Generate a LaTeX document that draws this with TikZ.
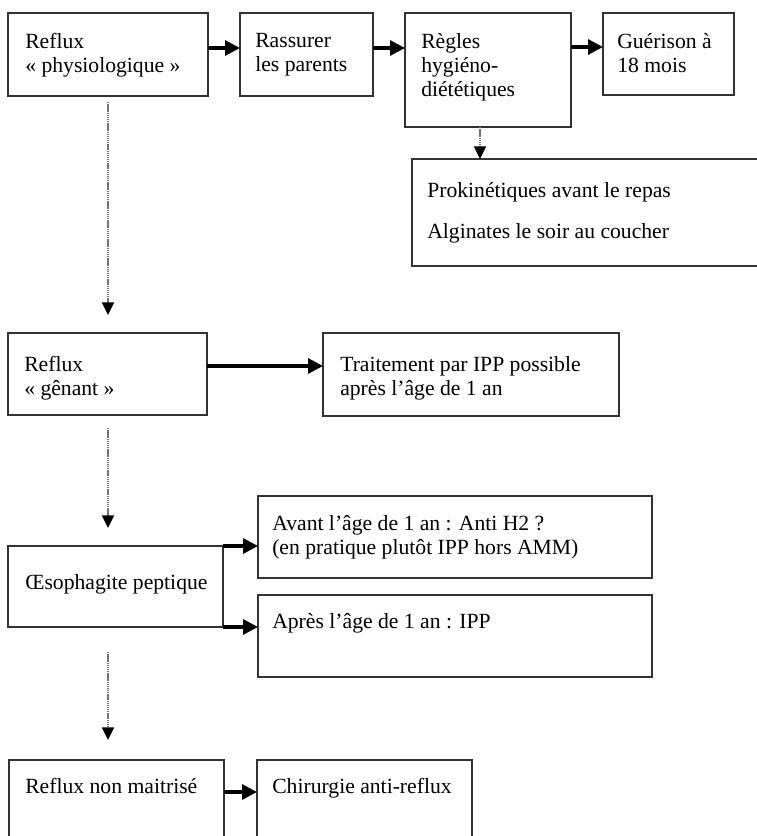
\documentclass[tikz,border=0pt]{standalone}
\usepackage{fontspec}
\setmainfont{Liberation Serif}
\usetikzlibrary{arrows.meta}

\begin{document}
\begin{tikzpicture}
[x=0.025cm,y=-0.025cm,
  boxDecorate/.style={shape=rectangle,draw=black!80,line width=1.1pt,anchor=north west,inner sep=0pt,outer sep=0pt},
  textDecorate/.style={anchor=north west,inner sep=0pt,align=left,font=\fontsize{15.4}{17.2}\selectfont},
  arrowDecorate/.style={-{Triangle[length=10.5pt,width=10.5pt]},line width=2.2pt},
  dotDecorate/.style={-{Triangle[length=9pt,width=8.5pt,color=black]},line width=1.6pt,draw=black!55,dash pattern=on 1pt off 0.5pt}]
\useasboundingbox (0,0) rectangle (757,836);
\clip (0,0) rectangle (757,836);
%% boxes and their texts
\foreach \boxname/\x/\y/\w/\h/\dx/\dy/\boxtext in {
  phys/8/13/200/83/17/20/{Reflux\\« physiologique »},
  rass/240/13/133/83/15/20/{Rassurer\\les parents},
  regles/405/13/166/114/16/20/{Règles\\hygiéno-\\diététiques},
  guer/603/13/131/82/14/20/{Guérison à\\18 mois},
  prok/412/159/360/107/15/23/{Prokinétiques avant le repas\\[12pt]Alginates le soir au coucher},
  genant/8/333/199/82/16/23/{Reflux\\« gênant »},
  trait/323/333/296/83/17/23/{Traitement par IPP possible\\après l’âge de 1 an},
  oeso/8/546/215/81/17/28/{Œsophagite peptique},
  avant/258/496/394/82/14/19/{Avant l’âge de 1 an : Anti H2 ?\\(en pratique plutôt IPP hors AMM)},
  apres/258/595/394/82/14/18/{Après l’âge de 1 an : IPP},
  nonmait/9/760/215/100/16/18/{Reflux non maitrisé},
  chir/257/760/215/100/15/18/{Chirurgie anti-reflux}}
{
  \node (\boxname) at (\x,\y) [boxDecorate,minimum width=\w*0.025cm,minimum height=\h*0.025cm] {};
  \node [textDecorate] at ([shift={(\dx,\dy)}]\boxname.north west) {\boxtext};
}
%% solid arrows
\foreach \startnode/\endnode/\dy in {
  phys/rass/35, rass/regles/35, regles/guer/34, genant/trait/33, nonmait/chir/32}
{
  \draw[arrowDecorate] ([shift={(0,\dy)}]\startnode.north east) -- ([shift={(0,\dy)}]\endnode.north west);
}
\draw[arrowDecorate] (oeso.north east) -- (oeso.north east -| avant.west);
\draw[arrowDecorate] (oeso.south east) -- (oeso.south east -| apres.west);
%% dotted arrows
\draw[dotDecorate] ([shift={(75,0)}]regles.south west) -- ([shift={(68,0)}]prok.north west);
\draw[dotDecorate] ([shift={(100,6)}]phys.south west) -- ([shift={(100,-18)}]genant.north west);
\draw[dotDecorate] ([shift={(100,13)}]genant.south west) -- ([shift={(100,-18)}]oeso.north west);
\draw[dotDecorate] ([shift={(100,25)}]oeso.south west) -- ([shift={(99,-20)}]nonmait.north west);
\end{tikzpicture}
\end{document}
